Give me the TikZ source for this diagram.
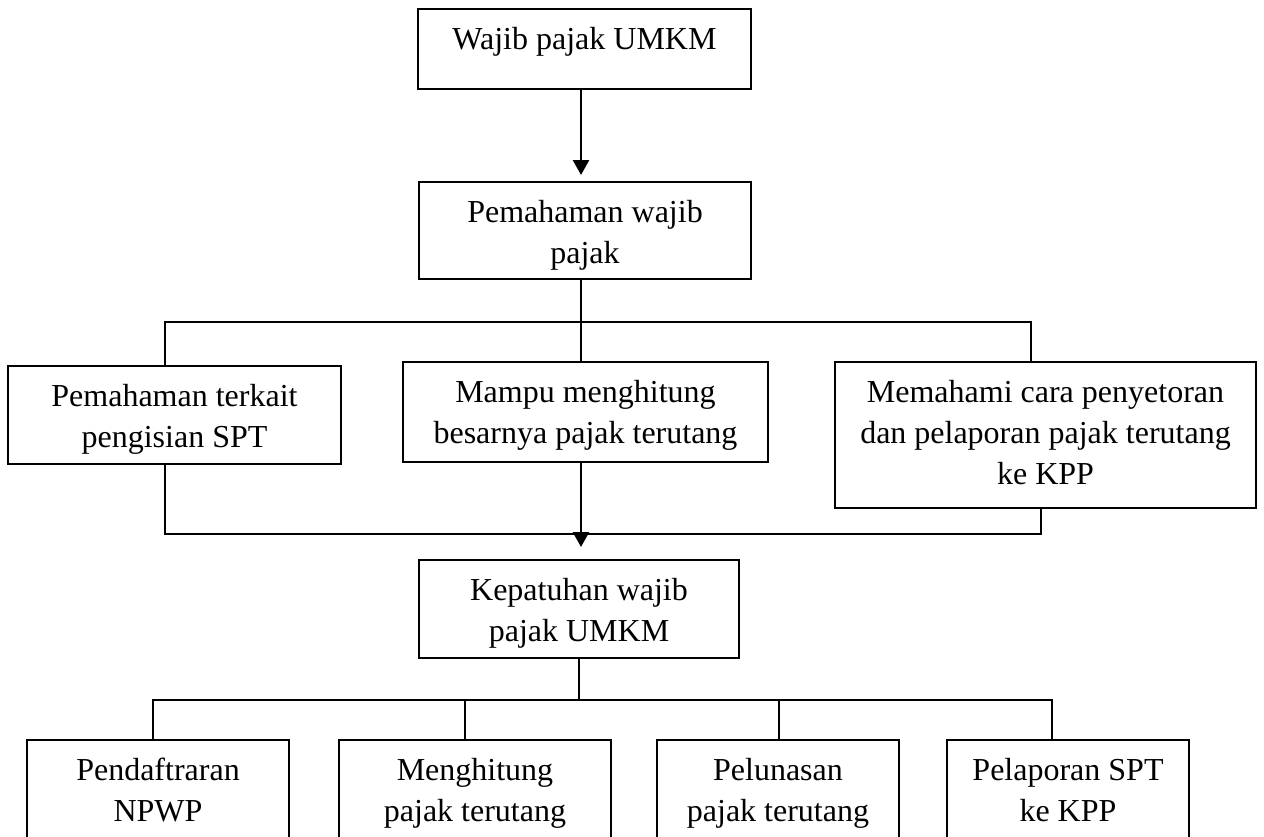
\documentclass[tikz,border=0pt]{standalone}
\usepackage{fontspec}
\setmainfont{Liberation Serif}
\usetikzlibrary{arrows.meta}
\newcommand{\bxt}[3]{\parbox[t][#2][t]{#1}{\centering\rule{0pt}{40pt}#3\par}}
\begin{document}
\begin{tikzpicture}[x=1pt,y=-1pt,
  bx/.style={draw, line width=1.3pt, inner sep=0pt, outer sep=0pt, anchor=north west,
    font=\fontsize{32}{41}\selectfont},
  ln/.style={line width=1.3pt},
  arr/.style={line width=2.6pt, -{Triangle[width=16pt,length=15pt]}}]
\useasboundingbox (0,0) rectangle (1264,836);
\fill[white] (0,0) rectangle (1264,836);
\clip (0,0) rectangle (1264,836);
% boxes
\node[bx] (b1) at (418,9) {\bxt{333pt}{80pt}{Wajib pajak UMKM}};
\node[bx] (b2) at (419,182) {\bxt{332pt}{97pt}{Pemahaman wajib\\pajak}};
\node[bx] (L) at (8,366) {\bxt{333pt}{98pt}{Pemahaman terkait\\pengisian SPT}};
\node[bx] (M) at (403,362) {\bxt{365pt}{100pt}{Mampu menghitung\\besarnya pajak terutang}};
\node[bx] (R) at (835,362) {\bxt{421pt}{146pt}{Memahami cara penyetoran\\dan pelaporan pajak terutang\\ke KPP}};
\node[bx] (K) at (419,560) {\bxt{320pt}{98pt}{Kepatuhan wajib\\pajak UMKM}};
\node[bx] (B1) at (27,740) {\bxt{262pt}{110pt}{Pendaftraran\\NPWP}};
\node[bx] (B2) at (339,740) {\bxt{272pt}{110pt}{Menghitung\\pajak terutang}};
\node[bx] (B3) at (657,740) {\bxt{242pt}{110pt}{Pelunasan\\pajak terutang}};
\node[bx] (B4) at (947,740) {\bxt{242pt}{110pt}{Pelaporan SPT\\ke KPP}};
% junction coordinates
\coordinate (a1end) at (581,175);
\coordinate (ja) at (581,322);
\coordinate (jl) at (165,322);
\coordinate (jr) at (1031,322);
\coordinate (jbl) at (165,534);
\coordinate (jbr) at (1041,534);
\coordinate (a2end) at (581,547);
\coordinate (jk) at (579,700);
\coordinate (k1) at (153,700);
\coordinate (k2) at (465,700);
\coordinate (k3) at (779,700);
\coordinate (k4) at (1052,700);
% connectors
\draw[arr] (b1.south -| a1end) -- (a1end);
\draw[ln] (b2.south -| ja) -- (M.north -| ja);
\draw[ln] (L.north -| jl) |- (jr) -- (R.north -| jr);
\draw[ln] (L.south -| jbl) -- (jbl) -- (jbr) -- (R.south -| jbr);
\draw[arr] (M.south -| a2end) -- (a2end);
\draw[ln] (K.south -| jk) -- (jk);
\draw[ln] (B1.north -| k1) |- (k4) -- (B4.north -| k4);
\draw[ln] (k2) -- (B2.north -| k2);
\draw[ln] (k3) -- (B3.north -| k3);
\end{tikzpicture}
\end{document}
